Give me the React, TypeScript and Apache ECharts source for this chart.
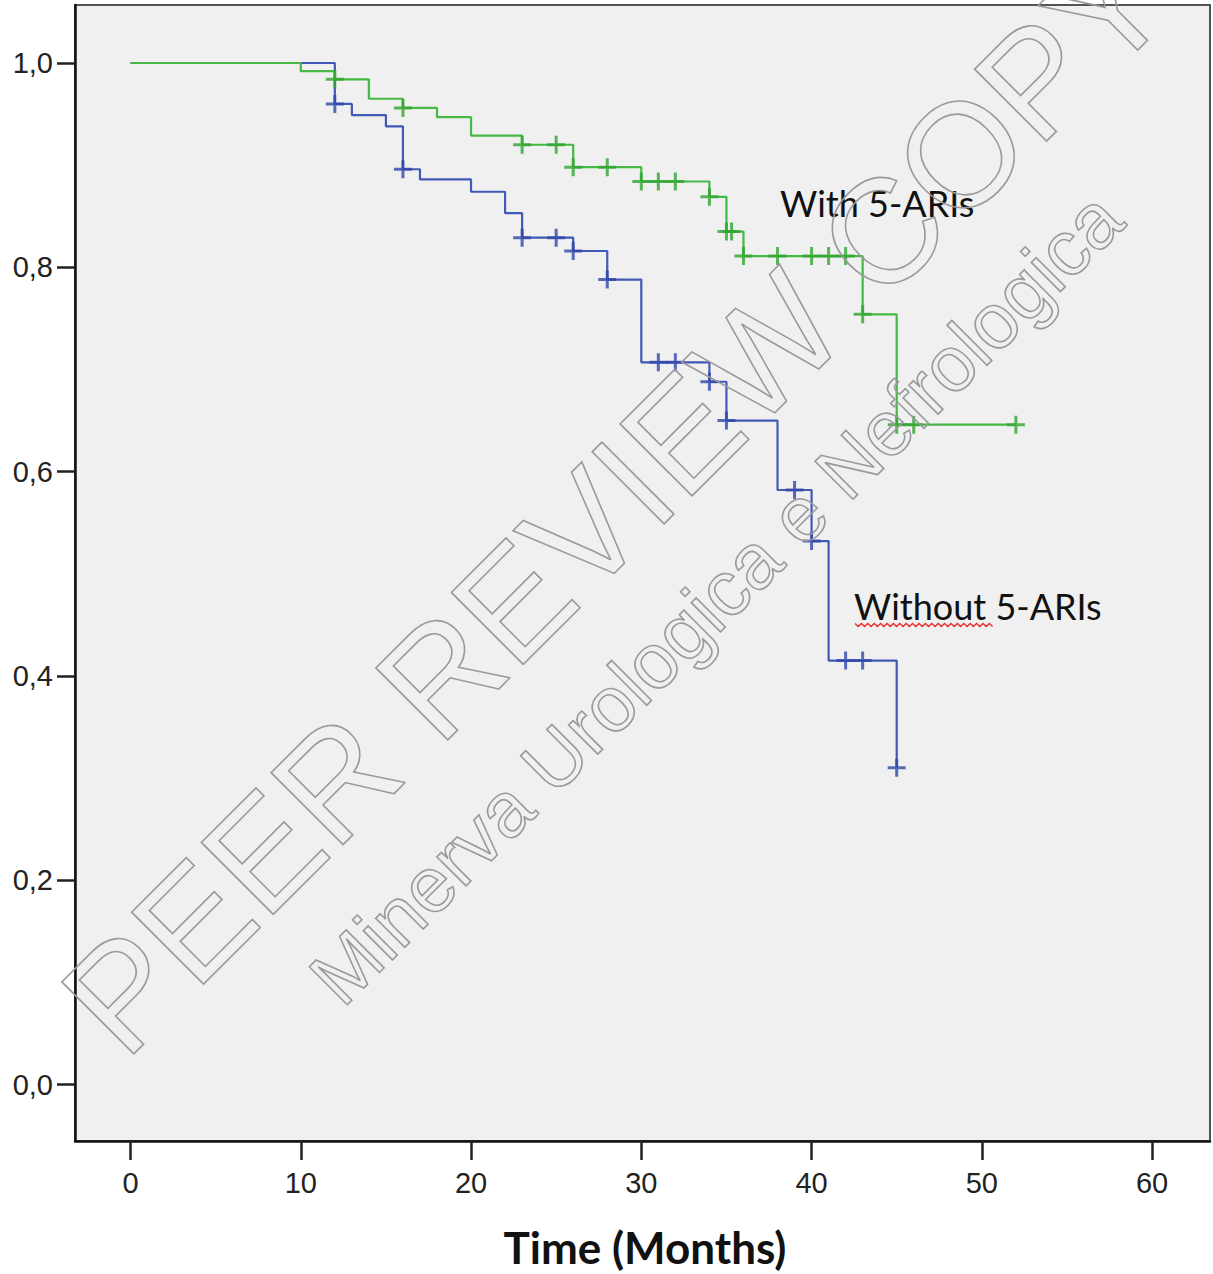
import React, { useEffect, useRef } from "react";
import * as echarts from "echarts";

// Kaplan-Meier step data (time in months, cumulative survival)
const greenTimes = [0, 10, 12, 14, 16, 18, 20, 23, 26, 30, 34, 35, 36, 43, 45, 52];
const greenSurv = [1.0, 0.992, 0.984, 0.965, 0.956, 0.947, 0.929, 0.92, 0.898, 0.884, 0.869, 0.835, 0.811, 0.754, 0.646, 0.646];
const greenCensorTimes = [12, 16, 23, 25, 26, 28, 30, 31, 32, 34, 35, 35.3, 36, 38, 40, 41, 42, 43, 45, 46, 52];
const greenCensorSurv = [0.984, 0.956, 0.92, 0.92, 0.898, 0.898, 0.884, 0.884, 0.884, 0.869, 0.835, 0.835, 0.811, 0.811, 0.811, 0.811, 0.811, 0.754, 0.646, 0.646, 0.646];

const blueTimes = [0, 12, 13, 15, 16, 17, 20, 22, 23, 26, 28, 30, 34, 35, 38, 40, 41, 45];
const blueSurv = [1.0, 0.96, 0.949, 0.938, 0.896, 0.886, 0.874, 0.853, 0.829, 0.816, 0.788, 0.707, 0.688, 0.65, 0.582, 0.532, 0.415, 0.31];
const blueCensorTimes = [12, 16, 23, 25, 26, 28, 31, 32, 34, 35, 39, 40, 42, 43, 45];
const blueCensorSurv = [0.96, 0.896, 0.829, 0.829, 0.816, 0.788, 0.707, 0.707, 0.688, 0.65, 0.582, 0.532, 0.415, 0.415, 0.31];

const xTicks = [0, 10, 20, 30, 40, 50, 60];
const yTicks = [0, 0.2, 0.4, 0.6, 0.8, 1.0];

const labelWith = "With 5-ARIs";
const labelWithout = "Without 5-ARIs";
const xTitle = "Time (Months)";

const GREEN = "#45b845";
const GREEN_MARK = "#2fa52f";
const BLUE = "#4259b5";
const BLUE_MARK = "#2f46aa";

const PLUS = "path://M-1.5,-9H1.5V-1.5H9V1.5H1.5V9H-1.5V1.5H-9V-1.5H-1.5Z";

function wavyPoints(x0: number, x1: number, y: number, amp: number, step: number) {
  const pts: number[][] = [];
  let up = true;
  for (let x = x0; x <= x1; x += step) {
    pts.push([x, up ? y - amp : y + amp]);
    up = !up;
  }
  return pts;
}

export default function App() {
  const ref = useRef<HTMLDivElement>(null);
  useEffect(() => {
    if (!ref.current) return;
    const chart = echarts.init(ref.current, undefined, { renderer: "svg" });
    const axisFont = { fontFamily: "Liberation Sans", fontSize: 29, color: "#222" };
    chart.setOption({
      animation: false,
      backgroundColor: "#ffffff",
      grid: {
        left: 75,
        right: 3,
        top: 5,
        bottom: 133,
        show: true,
        backgroundColor: "#f0f0f0",
        borderColor: "#555",
        borderWidth: 2,
      },
      xAxis: {
        type: "value",
        min: -3.26,
        max: 63.4,
        axisLine: { show: true, onZero: false, lineStyle: { color: "#111", width: 2.5 } },
        axisTick: { show: true, length: 19, lineStyle: { color: "#222", width: 2.5 }, customValues: xTicks },
        axisLabel: { ...axisFont, margin: 27, customValues: xTicks, formatter: (v: number) => String(v) },
        splitLine: { show: false },
      },
      yAxis: {
        type: "value",
        min: -0.0553,
        max: 1.0568,
        axisLine: { show: true, onZero: false, lineStyle: { color: "#111", width: 2.5 } },
        axisTick: { show: true, length: 18, lineStyle: { color: "#222", width: 2.5 }, customValues: yTicks },
        axisLabel: {
          ...axisFont,
          margin: 22,
          customValues: yTicks,
          formatter: (v: number) => v.toFixed(1).replace(".", ","),
        },
        splitLine: { show: false },
      },
      series: [
        {
          name: labelWithout,
          type: "line",
          step: "end",
          symbol: "none",
          data: blueTimes.map((t, i) => [t, blueSurv[i]]),
          lineStyle: { color: BLUE, width: 2.2 },
          z: 2,
        },
        {
          name: labelWith,
          type: "line",
          step: "end",
          symbol: "none",
          data: greenTimes.map((t, i) => [t, greenSurv[i]]),
          lineStyle: { color: GREEN, width: 2.2 },
          z: 3,
        },
        {
          name: labelWithout + " censored",
          type: "scatter",
          symbol: PLUS,
          symbolSize: 18,
          data: blueCensorTimes.map((t, i) => [t, blueCensorSurv[i]]),
          itemStyle: { color: BLUE_MARK },
          z: 4,
        },
        {
          name: labelWith + " censored",
          type: "scatter",
          symbol: PLUS,
          symbolSize: 18,
          data: greenCensorTimes.map((t, i) => [t, greenCensorSurv[i]]),
          itemStyle: { color: GREEN_MARK },
          z: 5,
        },
      ],
      graphic: [
        {
          type: "text",
          x: 615,
          y: 500,
          rotation: Math.PI / 4,
          z: 100,
          silent: true,
          style: {
            text: "PEER REVIEW COPY",
            font: '148px "Liberation Sans"',
            fill: "none",
            stroke: "#9a9a9a",
            lineWidth: 1.6,
            align: "center",
            verticalAlign: "middle",
          },
        },
        {
          type: "text",
          x: 716,
          y: 598,
          rotation: Math.PI / 4,
          z: 100,
          silent: true,
          style: {
            text: "Minerva Urologica e Nefrologica",
            font: '78px "Liberation Sans"',
            fill: "none",
            stroke: "#9a9a9a",
            lineWidth: 1.6,
            align: "center",
            verticalAlign: "middle",
          },
        },
        {
          type: "text",
          x: 780,
          y: 203,
          z: 50,
          style: {
            text: labelWith,
            font: '36px "Lato"',
            fill: "#111",
            align: "left",
            verticalAlign: "middle",
          },
        },
        {
          type: "text",
          x: 854,
          y: 606,
          z: 50,
          style: {
            text: labelWithout,
            font: '36px "Lato"',
            fill: "#111",
            align: "left",
            verticalAlign: "middle",
          },
        },
        {
          type: "polyline",
          z: 51,
          shape: { points: wavyPoints(855, 994, 625, 1.6, 3.2) },
          style: { stroke: "#e83030", lineWidth: 1.4, fill: "none" },
        },
        {
          type: "text",
          x: 645,
          y: 1247,
          z: 50,
          style: {
            text: xTitle,
            font: 'bold 44px "Lato"',
            fill: "#111",
            align: "center",
            verticalAlign: "middle",
          },
        },
      ],
    });
    return () => chart.dispose();
  }, []);
  return (
    <div
      ref={ref}
      style={{ position: "fixed", left: 0, top: 0, width: 1213, height: 1274 }}
    />
  );
}
